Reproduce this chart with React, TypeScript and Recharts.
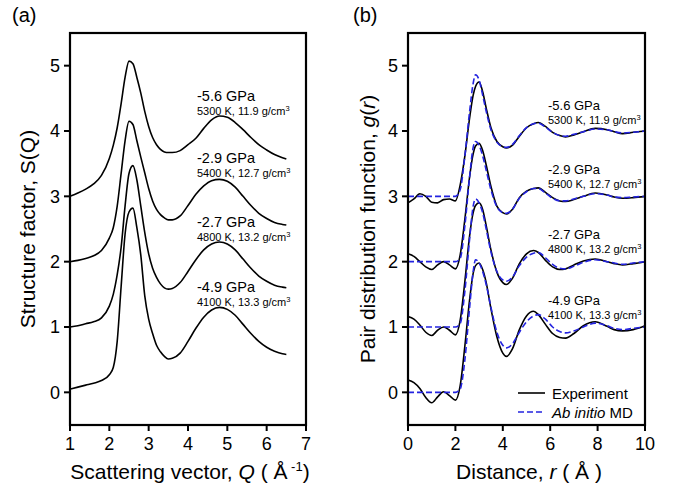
import React from 'react';
import { LineChart, Line, XAxis, YAxis } from 'recharts';

const FONT = '"Liberation Sans", Arial, Helvetica, sans-serif';

// ---------- Panel (a): structure factor S(Q), curves offset by 0,1,2,3 ----------
const Q = [1.0, 1.2, 1.4, 1.6, 1.8, 2.0, 2.1, 2.2, 2.3, 2.4, 2.5, 2.6, 2.7, 2.8, 2.9, 3.0, 3.1, 3.2, 3.3, 3.4, 3.5, 3.6, 3.8, 4.0, 4.2, 4.4, 4.6, 4.8, 5.0, 5.2, 5.4, 5.6, 5.8, 6.0, 6.2, 6.4, 6.5];
const S_m49 = [0.05, 0.08, 0.11, 0.14, 0.18, 0.27, 0.38, 0.78, 1.62, 2.42, 2.76, 2.82, 2.52, 2.1, 1.48, 1.12, 0.9, 0.72, 0.62, 0.55, 0.51, 0.52, 0.6, 0.78, 0.98, 1.15, 1.26, 1.3, 1.27, 1.18, 1.04, 0.9, 0.78, 0.69, 0.63, 0.59, 0.58];
const S_m27 = [1.0, 1.02, 1.05, 1.08, 1.14, 1.32, 1.5, 1.8, 2.22, 2.85, 3.35, 3.47, 3.25, 2.85, 2.45, 2.12, 1.9, 1.76, 1.66, 1.6, 1.58, 1.59, 1.68, 1.85, 2.03, 2.18, 2.27, 2.3, 2.27, 2.18, 2.04, 1.9, 1.78, 1.7, 1.64, 1.61, 1.6];
const S_m29 = [2.0, 2.02, 2.05, 2.09, 2.17, 2.36, 2.52, 2.85, 3.35, 3.85, 4.15, 4.1, 3.85, 3.6, 3.36, 3.12, 2.93, 2.8, 2.72, 2.67, 2.64, 2.64, 2.7, 2.86, 3.03, 3.16, 3.24, 3.26, 3.23, 3.14, 3.0, 2.86, 2.74, 2.66, 2.6, 2.57, 2.56];
const S_m56 = [3.0, 3.05, 3.11, 3.19, 3.32, 3.58, 3.78, 4.05, 4.42, 4.82, 5.07, 5.03, 4.82, 4.58, 4.3, 4.07, 3.9, 3.79, 3.72, 3.68, 3.67, 3.67, 3.7, 3.79, 3.89, 4.04, 4.17, 4.23, 4.21, 4.13, 4.02, 3.9, 3.79, 3.71, 3.64, 3.59, 3.57];
const Q_TICKS = [1, 2, 3, 4, 5, 6, 7];

// ---------- Panel (b): pair distribution function g(r) ----------
const R = [0, 0.25, 0.5, 0.75, 1.0, 1.25, 1.5, 1.75, 2.0, 2.2, 2.4, 2.6, 2.75, 2.85, 3.0, 3.15, 3.3, 3.5, 3.75, 4.0, 4.15, 4.4, 4.7, 5.0, 5.3, 5.5, 5.8, 6.1, 6.4, 6.65, 7.0, 7.4, 7.9, 8.4, 8.7, 9.05, 9.5, 10];
const E_m49 = [0.19, 0.15, 0.06, -0.08, -0.16, -0.07, 0.01, -0.05, -0.12, 0.1, 0.71, 1.42, 1.82, 1.94, 1.98, 1.88, 1.68, 1.28, 0.85, 0.6, 0.55, 0.66, 0.96, 1.17, 1.24, 1.19, 1.04, 0.9, 0.84, 0.83, 0.9, 1.02, 1.08, 1.01, 0.96, 0.94, 0.96, 1.02];
const M_m49 = [0, 0, 0, 0, 0, 0, 0, 0, 0, 0.05, 0.5, 1.3, 1.85, 2.03, 1.98, 1.85, 1.65, 1.3, 0.92, 0.72, 0.68, 0.74, 0.92, 1.08, 1.17, 1.19, 1.12, 1.0, 0.93, 0.91, 0.94, 1.0, 1.06, 1.02, 0.98, 0.96, 0.98, 1.0];
const E_m27 = [1.16, 1.12, 1.03, 0.92, 0.87, 0.95, 1.0, 0.95, 0.88, 1.1, 1.7, 2.4, 2.75, 2.86, 2.9, 2.8, 2.55, 2.18, 1.84, 1.68, 1.65, 1.74, 1.97, 2.12, 2.17, 2.14, 2.02, 1.92, 1.88, 1.89, 1.95, 2.01, 2.04, 2.0, 1.97, 1.95, 1.97, 2.0];
const M_m27 = [1, 1, 1, 1, 1, 1, 1, 1, 1, 1.05, 1.55, 2.35, 2.85, 2.96, 2.9, 2.75, 2.5, 2.15, 1.85, 1.72, 1.7, 1.76, 1.94, 2.07, 2.13, 2.14, 2.06, 1.96, 1.9, 1.89, 1.93, 1.99, 2.03, 2.0, 1.98, 1.96, 1.98, 2.0];
const E_m29 = [2.12, 2.08, 2.0, 1.92, 1.88, 1.95, 2.0, 1.95, 1.89, 2.1, 2.65, 3.3, 3.65, 3.77, 3.81, 3.7, 3.48, 3.15, 2.85, 2.75, 2.73, 2.8, 2.98, 3.08, 3.12, 3.13, 3.06, 2.98, 2.93, 2.92, 2.95, 3.0, 3.05, 3.02, 2.99, 2.97, 2.98, 3.0];
const M_m29 = [2, 2, 2, 2, 2, 2, 2, 2, 2, 2.05, 2.55, 3.3, 3.75, 3.84, 3.78, 3.62, 3.4, 3.1, 2.84, 2.75, 2.74, 2.8, 2.97, 3.07, 3.12, 3.12, 3.05, 2.97, 2.93, 2.93, 2.96, 3.0, 3.04, 3.02, 2.99, 2.98, 2.99, 3.0];
const E_m56 = [2.9, 2.96, 3.04, 3.0, 2.91, 2.9, 2.95, 2.96, 2.93, 3.17, 3.62, 4.2, 4.55, 4.68, 4.75, 4.6, 4.35, 4.05, 3.84, 3.76, 3.74, 3.78, 3.92, 4.05, 4.11, 4.13, 4.07, 3.98, 3.93, 3.91, 3.94, 3.99, 4.04, 4.02, 3.99, 3.96, 3.98, 4.0];
const M_m56 = [3, 3, 3, 3, 3, 3, 3, 3, 3, 3.1, 3.62, 4.3, 4.73, 4.86, 4.78, 4.55, 4.3, 4.02, 3.83, 3.76, 3.75, 3.79, 3.93, 4.05, 4.11, 4.12, 4.06, 3.98, 3.93, 3.92, 3.95, 3.99, 4.03, 4.02, 3.99, 3.97, 3.98, 4.0];
const R_TICKS = [0, 2, 4, 6, 8, 10];

const Y_TICKS = [0, 1, 2, 3, 4, 5];
const PRESSURES = ['-5.6 GPa', '-2.9 GPa', '-2.7 GPa', '-4.9 GPa'];
const CONDITIONS = ['5300 K, 11.9 g/cm', '5400 K, 12.7 g/cm', '4800 K, 13.2 g/cm', '4100 K, 13.3 g/cm'];

const dataA = Q.map((q, i) => ({ q, a: S_m49[i], b: S_m27[i], c: S_m29[i], d: S_m56[i] }));
const dataB = R.map((r, i) => ({
  r,
  e1: E_m49[i], m1: M_m49[i],
  e2: E_m27[i], m2: M_m27[i],
  e3: E_m29[i], m3: M_m29[i],
  e4: E_m56[i], m4: M_m56[i],
}));

const BLUE = '#2323e0';
const axisStyle = { stroke: '#000', strokeWidth: 2 };
const tickStyle = { fill: '#000', fontSize: 18, fontFamily: FONT };

const annA = [
  { y1: 101, y2: 115 },
  { y1: 163, y2: 177 },
  { y1: 227, y2: 241 },
  { y1: 292, y2: 306 },
];
const annB = [
  { y1: 110, y2: 123.5 },
  { y1: 174, y2: 187.5 },
  { y1: 239, y2: 252.5 },
  { y1: 305, y2: 318.5 },
];

export default function App() {
  return (
    <div style={{ position: 'absolute', left: 0, top: 0, width: 673, height: 492, background: '#fff', overflow: 'hidden' }}>
      <div style={{ position: 'absolute', left: 0, top: 0, zIndex: 1 }}>
        <LineChart width={336} height={492} data={dataA} margin={{ top: 33, right: 30, bottom: 0, left: 0 }}>
          <XAxis dataKey="q" type="number" domain={[1, 7]} ticks={Q_TICKS} height={67} tickSize={6} tickMargin={6}
            axisLine={axisStyle} tickLine={axisStyle} tick={tickStyle} interval={0} />
          <YAxis type="number" domain={[-0.5, 5.5]} ticks={Y_TICKS} width={70} tickSize={6} tickMargin={4}
            axisLine={axisStyle} tickLine={axisStyle} tick={tickStyle} interval={0} />
          <Line dataKey="a" type="monotone" stroke="#000" strokeWidth={1.6} dot={false} isAnimationActive={false} />
          <Line dataKey="b" type="monotone" stroke="#000" strokeWidth={1.6} dot={false} isAnimationActive={false} />
          <Line dataKey="c" type="monotone" stroke="#000" strokeWidth={1.6} dot={false} isAnimationActive={false} />
          <Line dataKey="d" type="monotone" stroke="#000" strokeWidth={1.6} dot={false} isAnimationActive={false} />
        </LineChart>
      </div>
      <div style={{ position: 'absolute', left: 336, top: 0, zIndex: 1 }}>
        <LineChart width={337} height={492} data={dataB} margin={{ top: 33, right: 28, bottom: 0, left: 0 }}>
          <XAxis dataKey="r" type="number" domain={[0, 10]} ticks={R_TICKS} height={67} tickSize={6} tickMargin={6}
            axisLine={axisStyle} tickLine={axisStyle} tick={tickStyle} interval={0} />
          <YAxis type="number" domain={[-0.5, 5.5]} ticks={Y_TICKS} width={72} tickSize={6} tickMargin={4}
            axisLine={axisStyle} tickLine={axisStyle} tick={tickStyle} interval={0} />
          <Line dataKey="e1" type="monotone" stroke="#000" strokeWidth={1.6} dot={false} isAnimationActive={false} />
          <Line dataKey="e2" type="monotone" stroke="#000" strokeWidth={1.6} dot={false} isAnimationActive={false} />
          <Line dataKey="e3" type="monotone" stroke="#000" strokeWidth={1.6} dot={false} isAnimationActive={false} />
          <Line dataKey="e4" type="monotone" stroke="#000" strokeWidth={1.6} dot={false} isAnimationActive={false} />
          <Line dataKey="m1" type="monotone" stroke={BLUE} strokeWidth={1.6} strokeDasharray="6 3" dot={false} isAnimationActive={false} />
          <Line dataKey="m2" type="monotone" stroke={BLUE} strokeWidth={1.6} strokeDasharray="6 3" dot={false} isAnimationActive={false} />
          <Line dataKey="m3" type="monotone" stroke={BLUE} strokeWidth={1.6} strokeDasharray="6 3" dot={false} isAnimationActive={false} />
          <Line dataKey="m4" type="monotone" stroke={BLUE} strokeWidth={1.6} strokeDasharray="6 3" dot={false} isAnimationActive={false} />
        </LineChart>
      </div>

      <svg width={673} height={492} style={{ position: 'absolute', left: 0, top: 0, pointerEvents: 'none', zIndex: 6 }} fontFamily={FONT}>
        <rect x={70} y={33} width={236} height={392} fill="none" stroke="#000" strokeWidth={2.2} />
        <rect x={408} y={33} width={237} height={392} fill="none" stroke="#000" strokeWidth={2.2} />
        <g fill="#000">
          <text x={12} y={22} fontSize={20}>(a)</text>
          <text x={353} y={22} fontSize={20}>(b)</text>

          <text transform="translate(27,229) rotate(-90)" textAnchor="middle" dominantBaseline="central" fontSize={21}>
            Structure factor, S(Q)
          </text>
          <text transform="translate(367,229) rotate(-90)" textAnchor="middle" dominantBaseline="central" fontSize={21}>
            Pair distribution function, <tspan fontStyle="italic">g</tspan>(<tspan fontStyle="italic">r</tspan>)
          </text>

          <text x={190} y={479} textAnchor="middle" fontSize={21}>
            Scattering vector, <tspan fontStyle="italic">Q</tspan> ( Å<tspan dy={-8} fontSize={13}> -1</tspan><tspan dy={8}>)</tspan>
          </text>
          <text x={529} y={479} textAnchor="middle" fontSize={21}>
            Distance, <tspan fontStyle="italic">r</tspan> ( Å )
          </text>

          {annA.map((p, i) => (
            <g key={'a' + i}>
              <text x={197} y={p.y1} fontSize={14.5}>{PRESSURES[i]}</text>
              <text x={197} y={p.y2} fontSize={11}>{CONDITIONS[i]}<tspan dy={-4} fontSize={7.5}>3</tspan></text>
            </g>
          ))}
          {annB.map((p, i) => (
            <g key={'b' + i}>
              <text x={548} y={p.y1} fontSize={13}>{PRESSURES[i]}</text>
              <text x={548} y={p.y2} fontSize={11}>{CONDITIONS[i]}<tspan dy={-4} fontSize={7.5}>3</tspan></text>
            </g>
          ))}

          <text x={552} y={393} dominantBaseline="central" fontSize={15}>Experiment</text>
          <text x={552} y={412} dominantBaseline="central" fontSize={15}>
            <tspan fontStyle="italic">Ab initio</tspan> MD
          </text>
        </g>
        <line x1={518} y1={393} x2={545} y2={393} stroke="#000" strokeWidth={1.6} />
        <line x1={518} y1={412} x2={545} y2={412} stroke={BLUE} strokeWidth={1.6} strokeDasharray="6 3" />
      </svg>
    </div>
  );
}
